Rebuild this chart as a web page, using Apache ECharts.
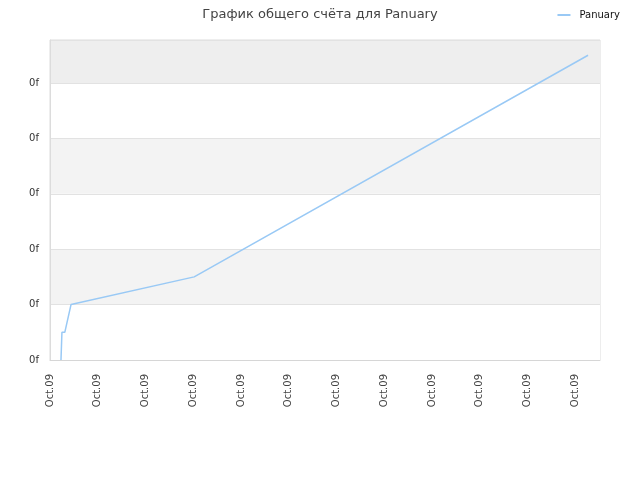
<!DOCTYPE html>
<html>
<head>
<meta charset="utf-8">
<script src="https://cdn.jsdelivr.net/npm/echarts@6/dist/echarts.min.js"></script>
<style>html,body{margin:0;padding:0;background:#fff}#c{width:640px;height:480px}</style>
</head>
<body>
<div id="c"></div>
<script>
var titleText = 'График общего счёта для Panuary';
var seriesName = 'Panuary';
var xLabel = 'Oct.09';
var yLabel = '0f';
var xValues = [0.23, 0.24, 0.25, 0.31, 0.44, 3.02, 11.27];
var yValues = [0, 0.25, 0.5, 0.5, 1.0, 1.5, 5.5];

var data = xValues.map(function (x, i) { return [x, yValues[i]]; });
var chart = echarts.init(document.getElementById('c'));
chart.setOption({
  animation: false,
  textStyle: { fontFamily: 'DejaVu Sans' },
  title: {
    text: titleText, left: 'center', top: 3,
    textStyle: { fontSize: 13, fontWeight: 'normal', color: '#444', fontFamily: 'DejaVu Sans' }
  },
  legend: {
    right: 15, top: 5, itemWidth: 13, itemHeight: 2, itemGap: 8,
    icon: 'rect',
    textStyle: { fontSize: 10, color: '#111', fontFamily: 'DejaVu Sans', padding: [0, 0, 0, 4] },
    data: [seriesName]
  },
  grid: { left: 50, right: 40, top: 40, bottom: 120, show: true, borderColor: '#dcdcdc', borderWidth: 1 },
  xAxis: {
    type: 'value', min: 0, max: 11.52, interval: 1,
    axisLine: { show: true, lineStyle: { color: '#d6d6d6' } },
    axisTick: { show: false },
    splitLine: { show: false },
    axisLabel: {
      rotate: 90, margin: 14, fontSize: 10, color: '#444', showMaxLabel: false,
      formatter: function () { return xLabel; }
    }
  },
  yAxis: {
    type: 'value', min: 0, max: 5.775, interval: 1,
    axisLine: { show: true, lineStyle: { color: '#dcdcdc' } },
    axisTick: { show: false },
    splitLine: { show: true, lineStyle: { color: '#e2e2e2' } },
    splitArea: { show: true, areaStyle: { color: ['#ffffff', '#f3f3f3', '#ffffff', '#f3f3f3', '#ffffff', '#eeeeee'] } },
    axisLabel: {
      margin: 11, fontSize: 10, color: '#333', showMaxLabel: false,
      formatter: function () { return yLabel; }
    }
  },
  series: [{
    name: seriesName, type: 'line', data: data,
    showSymbol: false, symbol: 'none',
    lineStyle: { color: '#99c9f5', width: 1.5 },
    itemStyle: { color: '#99c9f5' }
  }]
});
</script>
</body>
</html>
